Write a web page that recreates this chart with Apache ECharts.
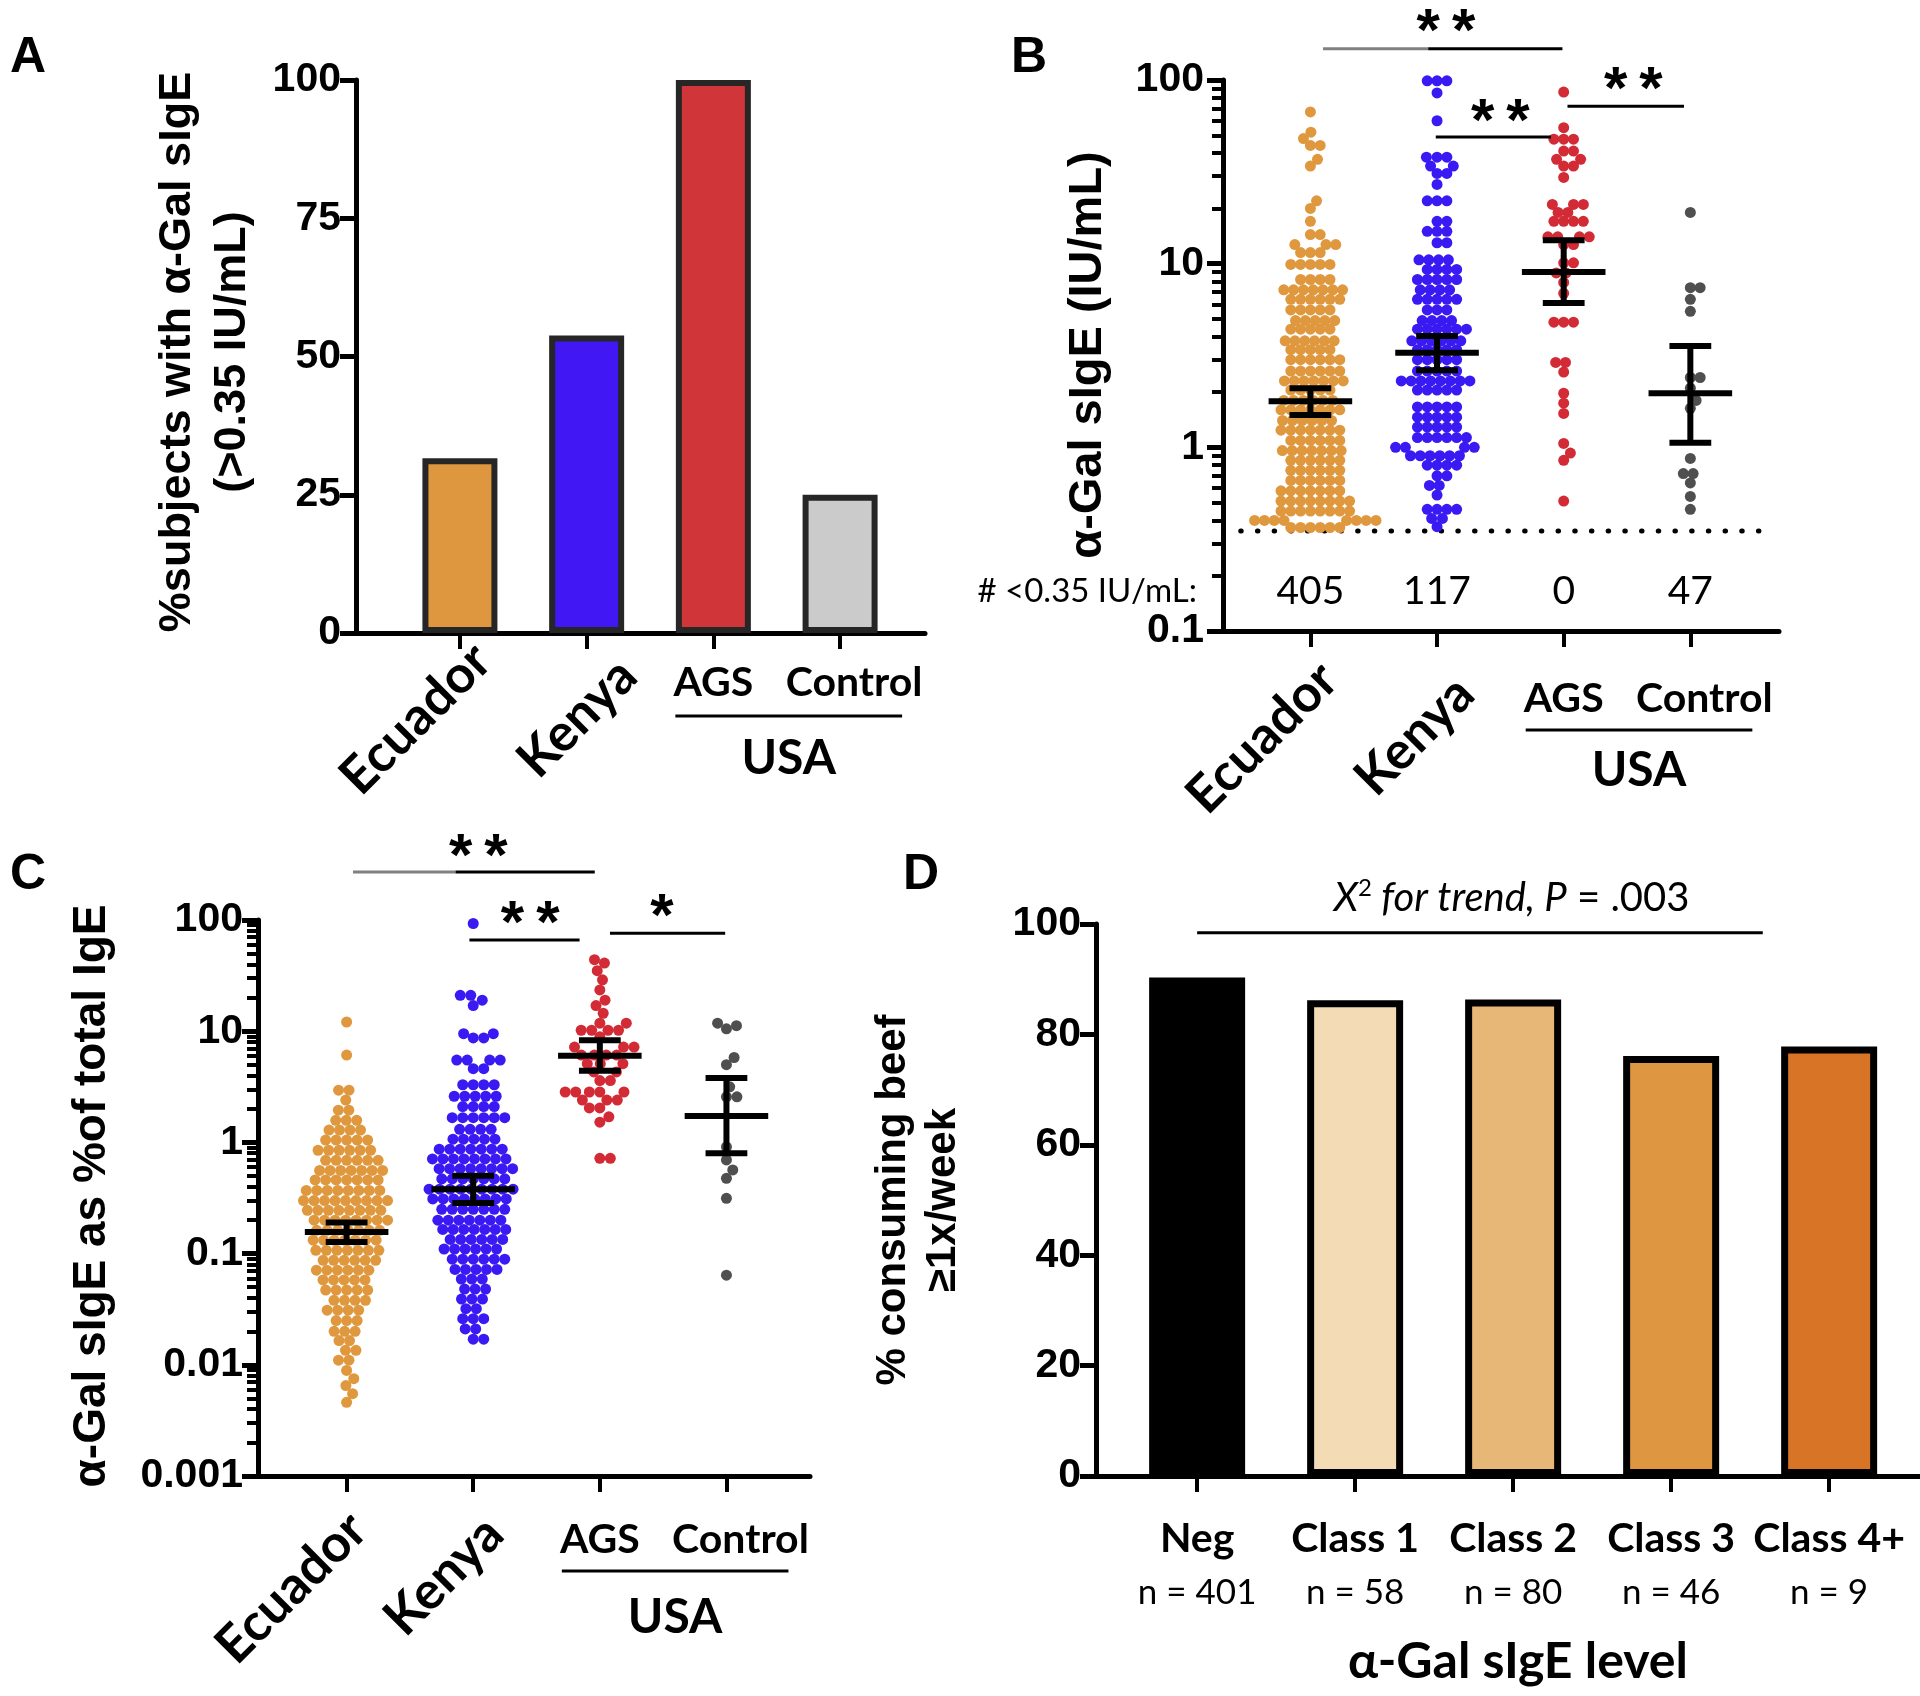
<!DOCTYPE html>
<html>
<head>
<meta charset="utf-8">
<script src="https://cdn.jsdelivr.net/npm/echarts@6/dist/echarts.min.js"></script>
<style>
  html, body { margin: 0; padding: 0; background: #fff; }
  #chart { width: 1920px; height: 1696px; }
</style>
</head>
<body>
<div id="chart"></div>
<script>
// ---- data ----
const catNames = ['Ecuador', 'Kenya', 'AGS', 'Control'];
const pctPositive = [31.6, 53.8, 100, 25.0];
const barColorsA = ['#DE963F', '#4118F4', '#D0353A', '#CBCBCB'];
const dotColors = ['#E0983E', '#3A1AF2', '#D22B36', '#4F4F4F'];

// panel B: alpha-Gal sIgE (IU/mL), subjects above 0.35
const sigeEcuador = [67, 52, 48, 44, 44, 37, 34, 22, 20, 17, 14.4, 14.4, 12.7, 12.7, 12.7, 11.5, 11.5, 11.5,
  9.9, 9.9, 9.9, 9.9, 9.9, 8.2, 8.2, 8.2, 8.2, 7.2, 7.2, 7.2, 7.2, 7.2, 7.2, 7.2, 6.4, 6.4, 6.4, 6.4, 6.4, 6.4,
  5.6, 5.6, 5.6, 5.6, 5.6, 4.9, 4.9, 4.9, 4.9, 4.9, 4.4, 4.4, 4.4, 4.4, 4.4, 3.8, 3.8, 3.8, 3.8, 3.8, 3.8,
  3.4, 3.4, 3.4, 3.4, 3.4, 3.0, 3.0, 3.0, 3.0, 3.0, 3.0, 2.6, 2.6, 2.6, 2.6, 2.6, 2.6,
  2.3, 2.3, 2.3, 2.3, 2.3, 2.3, 2.3, 2.05, 2.05, 2.05, 2.05, 2.05, 1.8, 1.8, 1.8, 1.8, 1.8, 1.8,
  1.6, 1.6, 1.6, 1.6, 1.6, 1.6, 1.6, 1.4, 1.4, 1.4, 1.4, 1.4, 1.4, 1.24, 1.24, 1.24, 1.24, 1.24, 1.24, 1.24,
  1.09, 1.09, 1.09, 1.09, 1.09, 1.09, 0.96, 0.96, 0.96, 0.96, 0.96, 0.96, 0.96, 0.85, 0.85, 0.85, 0.85, 0.85, 0.85,
  0.75, 0.75, 0.75, 0.75, 0.75, 0.75, 0.66, 0.66, 0.66, 0.66, 0.66, 0.66, 0.58, 0.58, 0.58, 0.58, 0.58, 0.58, 0.58,
  0.51, 0.51, 0.51, 0.51, 0.51, 0.51, 0.51, 0.51, 0.45, 0.45, 0.45, 0.45, 0.45, 0.45, 0.45, 0.45,
  0.40, 0.40, 0.40, 0.40, 0.40, 0.40, 0.40, 0.40, 0.366, 0.366, 0.366, 0.366, 0.366, 0.366];
const sigeKenya = [99, 99, 99, 85, 60, 38, 38, 38, 34, 34, 31, 31, 27, 22, 22, 22, 17, 17, 15, 15, 15, 13, 13,
  10.5, 10.5, 10.5, 10.5, 9.3, 9.3, 9.3, 9.3, 8.2, 8.2, 8.2, 8.2, 8.2, 7.2, 7.2, 7.2, 7.2, 6.4, 6.4, 6.4, 6.4, 6.4,
  5.6, 5.6, 5.6, 4.9, 4.9, 4.9, 4.9, 4.4, 4.4, 4.4, 4.4, 4.4, 4.4, 3.8, 3.8, 3.8, 3.8, 3.8, 3.8,
  3.4, 3.4, 3.4, 3.4, 3.4, 3.0, 3.0, 3.0, 3.0, 3.0, 2.6, 2.6, 2.6, 2.6, 2.6, 2.3, 2.3, 2.3, 2.3, 2.3, 2.3, 2.3, 2.3,
  2.05, 2.05, 2.05, 2.05, 2.05, 1.66, 1.66, 1.66, 1.66, 1.66, 1.46, 1.46, 1.46, 1.46, 1.46,
  1.29, 1.29, 1.29, 1.29, 1.29, 1.13, 1.13, 1.13, 1.13, 1.13, 1.13, 1.0, 1.0, 1.0, 1.0,
  0.90, 0.90, 0.90, 0.90, 0.90, 0.90, 0.80, 0.80, 0.80, 0.80, 0.70, 0.70, 0.62, 0.62, 0.55,
  0.46, 0.46, 0.46, 0.46, 0.41, 0.41, 0.37];
const sigeAGS = [86, 55, 47.6, 47.6, 47.6, 41, 41, 37, 37, 34, 34, 29.5, 21, 21, 21, 19, 19, 17, 17, 17, 17,
  14, 14, 14, 14, 12.7, 12.7, 10.1, 10.1, 8.9, 8.9, 7.9, 6.9, 4.8, 4.8, 4.8, 2.9, 2.9, 2.57, 1.97, 1.74, 1.53,
  1.05, 0.93, 0.85, 0.51];
const sigeControl = [19, 7.4, 7.4, 6.4, 5.5, 2.4, 2.4, 2.1, 1.8, 1.63, 0.87, 0.72, 0.72, 0.64, 0.54, 0.46];
const sigeMean = [1.78, 3.27, 9.0, 1.97];
const sigeLow = [1.5, 2.63, 6.1, 1.06];
const sigeHigh = [2.1, 4.04, 13.4, 3.56];
const belowCutoff = [405, 117, 0, 47];
const cutoff = 0.35;

// panel C: alpha-Gal sIgE as % of total IgE
const ratioEcuador = [12.1, 6.1, 2.95, 2.95, 2.4, 1.95, 1.95, 1.58, 1.58, 1.58, 1.29, 1.29, 1.29, 1.29,
  1.05, 1.05, 1.05, 1.05, 1.05, 0.85, 0.85, 0.85, 0.85, 0.85, 0.85, 0.69, 0.69, 0.69, 0.69, 0.69, 0.69,
  0.56, 0.56, 0.56, 0.56, 0.56, 0.56, 0.56, 0.46, 0.46, 0.46, 0.46, 0.46, 0.46, 0.46,
  0.37, 0.37, 0.37, 0.37, 0.37, 0.37, 0.37, 0.37, 0.30, 0.30, 0.30, 0.30, 0.30, 0.30, 0.30, 0.30, 0.30,
  0.245, 0.245, 0.245, 0.245, 0.245, 0.245, 0.245, 0.245, 0.20, 0.20, 0.20, 0.20, 0.20, 0.20, 0.20, 0.20,
  0.162, 0.162, 0.162, 0.162, 0.162, 0.162, 0.162, 0.132, 0.132, 0.132, 0.132, 0.132, 0.132, 0.132,
  0.107, 0.107, 0.107, 0.107, 0.107, 0.107, 0.107, 0.087, 0.087, 0.087, 0.087, 0.087, 0.087,
  0.071, 0.071, 0.071, 0.071, 0.071, 0.071, 0.058, 0.058, 0.058, 0.058, 0.058, 0.047, 0.047, 0.047, 0.047, 0.047,
  0.038, 0.038, 0.038, 0.038, 0.031, 0.031, 0.031, 0.031, 0.025, 0.025, 0.025, 0.020, 0.020, 0.020,
  0.0165, 0.0165, 0.0135, 0.0135, 0.011, 0.011, 0.0089, 0.0075, 0.0065, 0.0055, 0.0046];
const ratioKenya = [93, 21, 21, 19, 17, 9.5, 9.5, 8.7, 8.7, 5.5, 5.5, 5.5, 5.5, 4.6, 4.6, 3.3, 3.3, 3.3, 3.3,
  2.6, 2.6, 2.6, 2.6, 2.6, 2.1, 2.1, 2.1, 2.1, 1.67, 1.67, 1.67, 1.67, 1.67, 1.67, 1.31, 1.31, 1.31, 1.31,
  1.07, 1.07, 1.07, 1.07, 1.07, 0.87, 0.87, 0.87, 0.87, 0.87, 0.87, 0.87, 0.71, 0.71, 0.71, 0.71, 0.71, 0.71, 0.71, 0.71,
  0.58, 0.58, 0.58, 0.58, 0.58, 0.58, 0.58, 0.58, 0.47, 0.47, 0.47, 0.47, 0.47, 0.47, 0.47,
  0.38, 0.38, 0.38, 0.38, 0.38, 0.38, 0.38, 0.38, 0.38, 0.31, 0.31, 0.31, 0.31, 0.31, 0.31, 0.31, 0.31,
  0.25, 0.25, 0.25, 0.25, 0.25, 0.25, 0.25, 0.20, 0.20, 0.20, 0.20, 0.20, 0.20, 0.20,
  0.165, 0.165, 0.165, 0.165, 0.165, 0.165, 0.165, 0.134, 0.134, 0.134, 0.134, 0.134, 0.134,
  0.11, 0.11, 0.11, 0.11, 0.11, 0.11, 0.089, 0.089, 0.089, 0.089, 0.089, 0.089, 0.072, 0.072, 0.072, 0.072, 0.072,
  0.059, 0.059, 0.059, 0.048, 0.048, 0.048, 0.039, 0.039, 0.039, 0.032, 0.032, 0.026, 0.026, 0.026,
  0.021, 0.021, 0.017, 0.017];
const ratioAGS = [44, 41, 35, 29, 23.5, 19, 17, 14.5, 11.8, 11.8, 10.2, 10.2, 10.2, 10.2, 8.9, 7.2, 7.2, 7.2,
  6.1, 6.1, 6.1, 6.1, 5.1, 5.1, 5.1, 4.3, 4.3, 3.6, 3.6, 2.84, 2.84, 2.84, 2.84, 2.84, 2.4, 2.4, 2.4,
  2.04, 2.04, 1.7, 1.52, 0.72, 0.72];
const ratioControl = [11.8, 10.5, 11.2, 5.8, 5.0, 3.16, 2.57, 2.57, 0.91, 0.695, 0.565, 0.475, 0.314, 0.064];
const ratioMean = [0.156, 0.38, 6.0, 1.73];
const ratioLow = [0.127, 0.285, 4.4, 0.80];
const ratioHigh = [0.19, 0.5, 8.3, 3.8];

// panel D
const classLabels = ['Neg', 'Class 1', 'Class 2', 'Class 3', 'Class 4+'];
const classN = [401, 58, 80, 46, 9];
const beefPct = [90.3, 86.2, 86.3, 76.1, 77.8];
const classColors = ['#000000', '#F3DCB5', '#E6B777', '#DE9640', '#D77425'];

// ticks
const ticksA = [0, 25, 50, 75, 100];
const ticksB = [0.1, 1, 10, 100];
const ticksC = [0.001, 0.01, 0.1, 1, 10, 100];
const ticksD = [0, 20, 40, 60, 80, 100];

// significance brackets: [x1, x2, y, starX, starY, stars, grayUntil]
const sigB = [[0.1, 1.99, 148, 1.07, 210, '*\u2009*', 0.93], [0.99, 1.9, 48.9, 1.5, 68.5, '*\u2009*', null], [2.03, 2.95, 72, 2.55, 102, '*\u2009*', null]];
const sigC = [[0.05, 1.96, 270, 1.04, 472, '*\u2009*', 0.86], [0.97, 1.84, 66, 1.45, 118, '*\u2009*', null], [2.08, 2.99, 76, 2.49, 134, '*', null]];

// ---- chart ----
const chart = echarts.init(document.getElementById('chart'));
const AXF = 'Liberation Sans';
const CATF = 'Lato';

function minorTicks(lo, hi) {
  const out = [];
  for (let d = lo; d < hi; d *= 10) for (let k = 2; k <= 9; k++) out.push(+(d * k).toPrecision(3));
  return out;
}
function fmt(v) { return String(Number((+v).toPrecision(3))); }

function xAx(gridIndex, min, max, n, label) {
  const t = []; for (let i = 0; i < n; i++) t.push(i);
  return {
    type: 'value', gridIndex, min, max,
    axisLine: { show: true, onZero: false, lineStyle: { color: '#000', width: 5 } },
    axisTick: { show: true, length: 16, customValues: t, lineStyle: { color: '#000', width: 4 } },
    axisLabel: label || { show: false },
    splitLine: { show: false }
  };
}
function yLabel(margin) { return { fontFamily: AXF, fontWeight: 'bold', fontSize: 41, color: '#000', margin }; }
function yLin(gridIndex, interval, ticks) {
  return {
    type: 'value', gridIndex, min: 0, max: 100, interval, position: 'left',
    axisLine: { show: true, onZero: false, lineStyle: { color: '#000', width: 5 } },
    axisTick: { show: true, length: 16, lineStyle: { color: '#000', width: 5 } },
    axisLabel: Object.assign({ customValues: ticks }, yLabel(15)),
    splitLine: { show: false }
  };
}
function yLog(gridIndex, ticks, margin) {
  return {
    type: 'log', logBase: 10, gridIndex, position: 'left', min: ticks[0], max: ticks[ticks.length - 1],
    axisLine: { show: true, onZero: false, lineStyle: { color: '#000', width: 5 } },
    axisTick: { show: true, length: 16, customValues: ticks, lineStyle: { color: '#000', width: 5 } },
    axisLabel: Object.assign({ customValues: ticks, formatter: fmt }, yLabel(margin)),
    splitLine: { show: false }
  };
}
function yLogMinor(gridIndex, ticks) {
  return {
    type: 'log', logBase: 10, gridIndex, position: 'left', offset: 0, min: ticks[0], max: ticks[ticks.length - 1],
    axisLine: { show: false, onZero: false },
    axisTick: { show: true, length: 11, customValues: minorTicks(ticks[0], ticks[ticks.length - 1]), lineStyle: { color: '#000', width: 4 } },
    axisLabel: { show: false },
    splitLine: { show: false }
  };
}

function meanSeries(xi, yi, mean, low, high) {
  return {
    type: 'custom', xAxisIndex: xi, yAxisIndex: yi, z: 10, silent: true,
    renderItem: function (params, api) {
      const x = api.value(0), m = api.value(1), lo = api.value(2), hi = api.value(3);
      const seg = (a, b) => ({ type: 'line', shape: { x1: a[0], y1: a[1], x2: b[0], y2: b[1] }, style: { stroke: '#000', lineWidth: 6 } });
      return {
        type: 'group', children: [
          seg(api.coord([x - 0.33, m]), api.coord([x + 0.33, m])),
          seg(api.coord([x - 0.165, lo]), api.coord([x + 0.165, lo])),
          seg(api.coord([x - 0.165, hi]), api.coord([x + 0.165, hi])),
          seg(api.coord([x, lo]), api.coord([x, hi]))
        ]
      };
    },
    data: mean.map((m, i) => [i, m, low[i], high[i]])
  };
}

const option = {
  animation: false,
  backgroundColor: '#fff',
  grid: [
    { left: 356, top: 80, width: 569, height: 553 },
    { left: 1223, top: 80, width: 556, height: 551 },
    { left: 258, top: 920, width: 552, height: 556 },
    { left: 1096, top: 924, width: 824, height: 552 }
  ],
  xAxis: [
    xAx(0, -0.82, 3.67, 4),
    xAx(1, -0.69, 3.7, 4),
    xAx(2, -0.7, 3.66, 4),
    xAx(3, -0.64, 4.575, 5, {
      show: true, customValues: [0, 1, 2, 3, 4], margin: 36,
      formatter: v => '{b|' + classLabels[Math.round(v)] + '}\n{n|n = ' + classN[Math.round(v)] + '}',
      rich: {
        b: { fontFamily: CATF, fontWeight: 'bold', fontSize: 41, color: '#000', lineHeight: 54 },
        n: { fontFamily: CATF, fontSize: 35, color: '#000', lineHeight: 54 }
      }
    })
  ],
  yAxis: [
    yLin(0, 25, ticksA),
    yLog(1, ticksB, 19),
    yLogMinor(1, ticksB),
    yLog(2, ticksC, 15),
    yLogMinor(2, ticksC),
    yLin(3, 20, ticksD)
  ],
  series: []
};

function baseSeries(dataB, dataC) {
  const s = [];
  s.push({
    type: 'bar', xAxisIndex: 0, yAxisIndex: 0, barWidth: 75,
    itemStyle: { borderColor: '#262626', borderWidth: 6 },
    data: pctPositive.map((v, i) => ({ value: [i, v], itemStyle: { color: barColorsA[i] } }))
  });
  s.push({
    type: 'line', xAxisIndex: 1, yAxisIndex: 1, symbol: 'none', silent: true, z: 1,
    lineStyle: { color: '#000', width: 5, type: [0.5, 16.2], cap: 'round' },
    data: [[-0.55, cutoff], [3.64, cutoff]]
  });
  s.push({
    type: 'scatter', xAxisIndex: 1, yAxisIndex: 1, symbolSize: 0, silent: true,
    itemStyle: { color: 'rgba(0,0,0,0)' },
    label: {
      show: true, position: 'inside', formatter: p => String(p.value[2]),
      fontFamily: CATF, fontSize: 39, color: '#000', textBorderWidth: 0, opacity: 1
    },
    data: belowCutoff.map((n, i) => [i, 0.165, n])
  });
  dataB.forEach((d, i) => s.push({ type: 'scatter', xAxisIndex: 1, yAxisIndex: 1, symbolSize: 11, itemStyle: { color: dotColors[i], opacity: 1 }, data: d, z: 3 }));
  s.push(meanSeries(1, 1, sigeMean, sigeLow, sigeHigh));
  dataC.forEach((d, i) => s.push({ type: 'scatter', xAxisIndex: 2, yAxisIndex: 3, symbolSize: 11, itemStyle: { color: dotColors[i], opacity: 1 }, data: d, z: 3 }));
  s.push(meanSeries(2, 3, ratioMean, ratioLow, ratioHigh));
  s.push({
    type: 'bar', xAxisIndex: 3, yAxisIndex: 5, barWidth: 96,
    itemStyle: { borderColor: '#000', borderWidth: 7 },
    data: beefPct.map((v, i) => ({ value: [i, v], itemStyle: { color: classColors[i] } }))
  });
  return s;
}

option.series = baseSeries([[], [], [], []], [[], [], [], []]);
chart.setOption(option);

function px(xi, yi, x, y) { return chart.convertToPixel({ xAxisIndex: xi, yAxisIndex: yi }, [x, y]); }

// beeswarm layout: spread equal/near values sideways so dots do not pile up
function swarm(values, center, xi, yi, diam) {
  const unit = px(xi, yi, center + 1, 1)[0] - px(xi, yi, center, 1)[0];
  const pts = values.map(v => ({ v, py: px(xi, yi, center, v)[1] }));
  pts.sort((a, b) => b.py - a.py);
  const placed = [];
  pts.forEach(p => {
    const near = placed.filter(q => Math.abs(q.py - p.py) < diam);
    const cands = [0];
    near.forEach(q => { const s = Math.sqrt(diam * diam - (q.py - p.py) ** 2); cands.push(q.dx + s, q.dx - s); });
    cands.sort((a, b) => Math.abs(a) - Math.abs(b));
    p.dx = 0;
    for (const c of cands) {
      if (near.every(q => (q.dx - c) ** 2 + (q.py - p.py) ** 2 >= diam * diam - 0.01)) { p.dx = c; break; }
    }
    placed.push(p);
  });
  return placed.map(p => [center + p.dx / unit, p.v]);
}

const dataB = [sigeEcuador, sigeKenya, sigeAGS, sigeControl].map((vals, i) => swarm(vals, i, 1, 1, 9.8));
const dataC = [ratioEcuador, ratioKenya, ratioAGS, ratioControl].map((vals, i) => swarm(vals, i, 2, 3, 10.5));

// ---- text and annotation layer ----
const G = [];
function txt(x, y, text, o) {
  G.push({
    type: 'text', x, y, rotation: o.rot || 0, z: 100,
    style: {
      text, fill: o.color || '#000', fontFamily: o.family || CATF, fontSize: o.size, fontWeight: o.weight || 'normal',
      fontStyle: o.style || 'normal', rich: o.rich,
      align: o.align || 'center', verticalAlign: o.va || 'middle',
      textAlign: o.align || 'center', textVerticalAlign: o.va || 'middle'
    }
  });
}
function seg(x1, y1, x2, y2, color, w) {
  G.push({ type: 'line', z: 100, shape: { x1, y1, x2, y2 }, style: { stroke: color, lineWidth: w } });
}

// panel letters
txt(28, 58, 'A', { family: AXF, weight: 'bold', size: 50 });
txt(1029, 58, 'B', { family: AXF, weight: 'bold', size: 50 });
txt(28, 875, 'C', { family: AXF, weight: 'bold', size: 50 });
txt(921, 875, 'D', { family: AXF, weight: 'bold', size: 50 });

// axis titles
const R = Math.PI / 2;
txt(178, 352, '%subjects with α-Gal sIgE', { family: AXF, weight: 'bold', size: 45, rot: R });
txt(233, 352, '(>0.35 IU/mL)', { family: AXF, weight: 'bold', size: 45, rot: R });
txt(1088, 355, 'α-Gal sIgE (IU/mL)', { family: AXF, weight: 'bold', size: 47, rot: R });
txt(92, 1196, 'α-Gal sIgE as %of total IgE', { family: AXF, weight: 'bold', size: 46, rot: R });
txt(893, 1200, '% consuming beef', { family: AXF, weight: 'bold', size: 42, rot: R });
txt(943, 1200, '≥1x/week', { family: AXF, weight: 'bold', size: 42, rot: R });
txt(1518, 1662, 'α-Gal sIgE level', { weight: 'bold', size: 50 });

// group labels under panels A-C
function groupLabels(xi, yi, ymin, lay) {
  const t = [0, 1, 2, 3].map(i => px(xi, yi, i, ymin));
  const ay = t[0][1];
  [0, 1].forEach(i => txt(t[i][0] + lay.rot[i][0], ay + lay.rot[i][1], catNames[i],
    { weight: 'bold', size: 52, rot: Math.PI / 4, align: 'right', va: 'top' }));
  txt(t[2][0], ay + lay.row, catNames[2], { weight: 'bold', size: 41 });
  txt(t[3][0] + 14, ay + lay.row, catNames[3], { weight: 'bold', size: 41 });
  seg(t[2][0] - 38, ay + lay.line, t[3][0] + 62, ay + lay.line, '#000', 3);
  txt((t[2][0] + t[3][0]) / 2 + 12, ay + lay.usa, 'USA', { weight: 'bold', size: 48 });
}
groupLabels(0, 0, 0, { rot: [[4, 1], [23, 16]], row: 50, line: 83, usa: 126 });
groupLabels(1, 1, 0.1, { rot: [[0, 22], [10, 36]], row: 68, line: 99, usa: 140 });
groupLabels(2, 3, 0.001, { rot: [[-7, 27], [3, 31]], row: 64, line: 95, usa: 142 });

// cutoff count caption
const cap = px(1, 1, -0.69, 0.165);
txt(cap[0] - 26, cap[1], '# <0.35 IU/mL:', { size: 33, align: 'right' });

// significance brackets
function brackets(xi, yi, list) {
  list.forEach(b => {
    const p1 = px(xi, yi, b[0], b[2]), p2 = px(xi, yi, b[1], b[2]);
    if (b[6] != null) {
      const pm = px(xi, yi, b[6], b[2]);
      seg(p1[0], p1[1], pm[0], pm[1], '#808080', 3);
      seg(pm[0], pm[1], p2[0], p2[1], '#000', 3);
    } else {
      seg(p1[0], p1[1], p2[0], p2[1], '#000', 3);
    }
    const ps = px(xi, yi, b[3], b[4]);
    txt(ps[0], ps[1] + 13, b[5], { family: AXF, weight: 'bold', size: 60 });
  });
}
brackets(1, 1, sigB);
brackets(2, 3, sigC);

// trend line in D
const tl1 = px(3, 5, 0, 98.4), tl2 = px(3, 5, 3.58, 98.4);
seg(tl1[0], tl1[1], tl2[0], tl2[1], '#000', 3);
const tt = px(3, 5, 1.99, 104.7);
txt(tt[0], tt[1], '{i|X}{s|2}{i| for trend, P}{r| = .003}', {
  size: 40, rich: {
    i: { fontFamily: CATF, fontStyle: 'italic', fontSize: 40, color: '#000', lineHeight: 44 },
    s: { fontFamily: CATF, fontSize: 24, color: '#000', verticalAlign: 'top', lineHeight: 44 },
    r: { fontFamily: CATF, fontSize: 40, color: '#000', lineHeight: 44 }
  }
});

chart.setOption({ series: baseSeries(dataB, dataC), graphic: { elements: G } });
</script>
</body>
</html>
